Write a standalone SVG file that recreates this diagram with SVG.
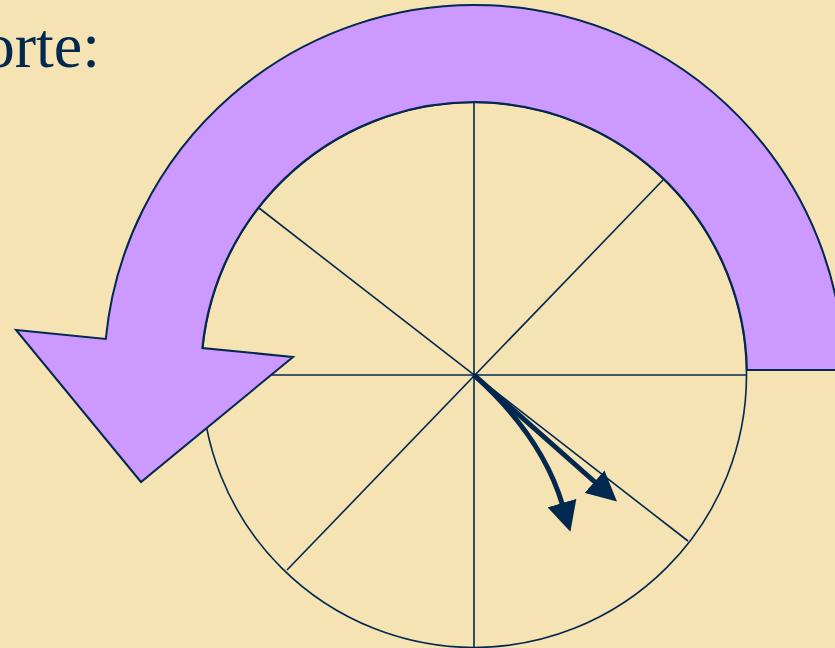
<svg xmlns="http://www.w3.org/2000/svg" width="835" height="648" viewBox="0 0 835 648">
<style>
.ln{stroke:#02284f;stroke-width:1.6;fill:none}
.big{fill:#cc99ff;stroke:#02284f;stroke-width:2;stroke-linejoin:miter}
.arr{stroke:#02284f;stroke-width:5;fill:none;marker-end:url(#head)}
.txt{font-family:"Liberation Serif","Times New Roman",serif;font-size:64px;fill:#02284f}
</style>
<defs>
<marker id="head" markerUnits="userSpaceOnUse" viewBox="0 0 30 30" markerWidth="30" markerHeight="30" refX="2" refY="15" orient="auto">
<path d="M0,0 L30,15 L0,30 Z" fill="#02284f"/>
</marker>
</defs>
<rect width="835" height="648" fill="#f5e3b3"/>
<text class="txt" x="100" y="67" text-anchor="end">orte:</text>
<g id="wheel">
<line class="ln" x1="474" y1="102" x2="474" y2="648"/>
<line class="ln" x1="201" y1="375" x2="747" y2="375"/>
<line class="ln" x1="259" y1="208" x2="688" y2="541"/>
<line class="ln" x1="663" y1="180" x2="287" y2="570"/>
<circle class="ln" cx="474" cy="375" r="272.5"/>
</g>
<g id="connectors">
<path class="arr" d="M474,375 L596,483"/>
<path class="arr" d="M474,375 Q542.5,436.7 562.5,505"/>
</g>
<g id="rotation-arrow">
<path class="big" d="M746.95,370 L843.97,370 A370,370 0 0 0 105.76,339 L16,330 L141,482 L293,357 L202.34,348 A273,273 0 0 1 746.95,370 Z"/>
</g>
</svg>
